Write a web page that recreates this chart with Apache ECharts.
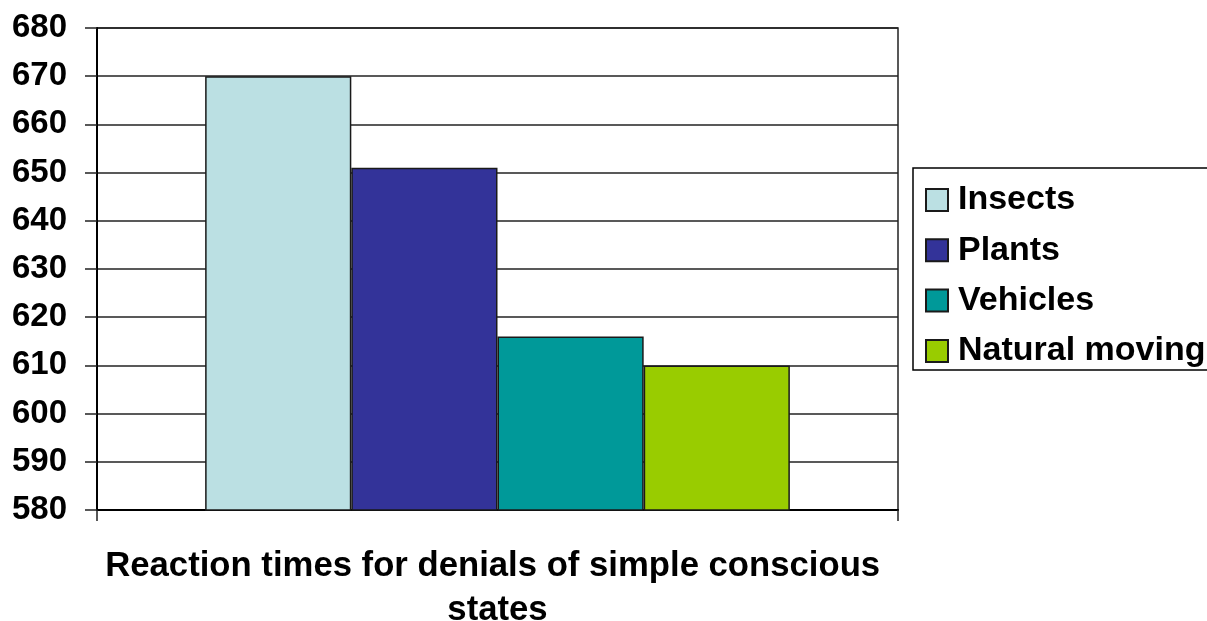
<!DOCTYPE html>
<html>
<head>
<meta charset="utf-8">
<script src="https://cdn.jsdelivr.net/npm/echarts@6/dist/echarts.min.js"></script>
<style>
  html, body { margin: 0; padding: 0; background: #fff; }
  #chart { width: 1207px; height: 621px; }
</style>
</head>
<body>
<div id="chart"></div>
<script>
// Reaction times (ms) by stimulus group
const categories = ['Reaction times for denials of simple conscious states'];
const seriesNames = ['Insects', 'Plants', 'Vehicles', 'Natural moving'];
const seriesValues = [[670], [651], [616], [610]];
const seriesColors = ['#BBE0E3', '#333399', '#009999', '#99CC00'];
const yTicks = { min: 580, max: 680, interval: 10 };

const FONT = '"Liberation Sans", Arial, sans-serif';

const chart = echarts.init(document.getElementById('chart'), null, { renderer: 'canvas' });

chart.setOption({
  animation: false,
  backgroundColor: '#ffffff',
  textStyle: { fontFamily: FONT },
  grid: {
    left: 97, right: 309, top: 28, bottom: 111,
    show: true, borderColor: '#222', borderWidth: 1.5,
    containLabel: false,
    outerBoundsMode: 'none'
  },
  legend: {
    orient: 'vertical',
    left: 913, top: 168,
    padding: [14, 80, 1, 12],
    borderColor: '#000', borderWidth: 1.5,
    itemWidth: 22, itemHeight: 22, itemGap: 14.3,
    icon: 'rect',
    textStyle: { fontFamily: FONT, fontWeight: 'bold', fontSize: 34, color: '#000', lineHeight: 36, padding: [0, 0, 0, 5] },
    data: seriesNames
  },
  xAxis: {
    type: 'category',
    data: categories,
    axisLine: { show: true, lineStyle: { color: '#000', width: 2 } },
    axisTick: { show: true, length: 11, lineStyle: { color: '#222', width: 1.5 } },
    axisLabel: {
      margin: 34,
      width: 810, overflow: 'break',
      fontFamily: FONT, fontWeight: 'bold', fontSize: 34.7, color: '#000', lineHeight: 44
    },
    splitLine: { show: false }
  },
  yAxis: {
    type: 'value',
    min: yTicks.min, max: yTicks.max, interval: yTicks.interval,
    axisLine: { show: true, lineStyle: { color: '#000', width: 2 } },
    axisTick: { show: true, length: 12, lineStyle: { color: '#222', width: 1.5 } },
    axisLabel: { margin: 30, fontFamily: FONT, fontWeight: 'bold', fontSize: 33, color: '#000' },
    splitLine: { show: true, lineStyle: { color: '#222', width: 1.5 } }
  },
  series: seriesNames.map((name, i) => ({
    name,
    type: 'bar',
    data: seriesValues[i],
    barGap: '0%',
    barCategoryGap: '27%',
    itemStyle: { color: seriesColors[i], borderColor: '#1a1a1a', borderWidth: 1.5 }
  }))
});
</script>
</body>
</html>
